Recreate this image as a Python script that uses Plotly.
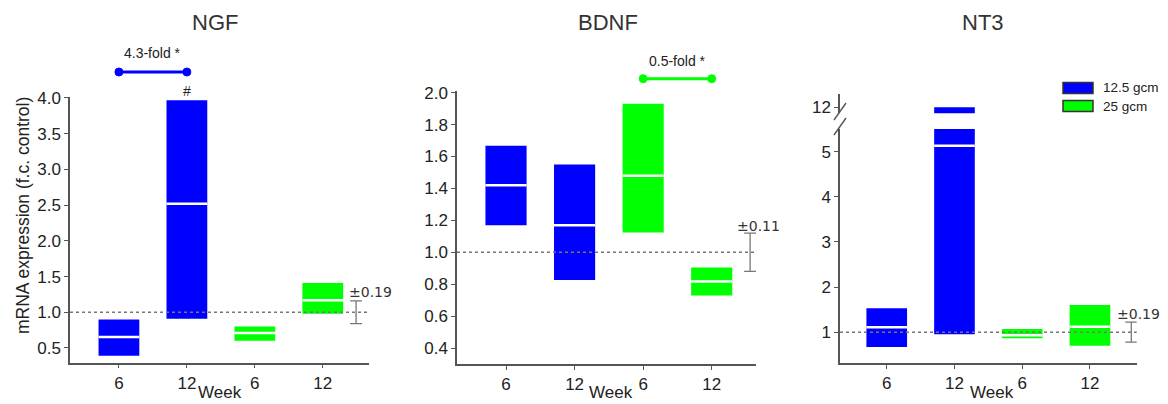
import plotly.graph_objects as go

# ---------------- data ----------------
week_labels = ["6", "12", "6", "12"]
series_names = ["12.5 gcm", "25 gcm"]
series_colors = ["#0000FF", "#00FF00"]
genes = ["NGF", "BDNF", "NT3"]

ngf_low = [0.39, 0.91, 0.60, 0.98]
ngf_med = [0.655, 2.52, 0.71, 1.17]
ngf_high = [0.90, 3.97, 0.80, 1.41]

bdnf_low = [1.17, 0.827, 1.124, 0.73]
bdnf_med = [1.42, 1.17, 1.48, 0.817]
bdnf_high = [1.668, 1.55, 1.93, 0.905]

nt3_low = [0.67, 0.955, 0.867, 0.70]
nt3_med = [1.11, 5.13, 0.93, 1.12]
nt3_high = [1.53, 12.0, 1.07, 1.60]

control_level = 1.0
err_half = [0.16, 0.12, 0.22]
err_labels = ["\u00b10.19", "\u00b10.11", "\u00b10.19"]
fold_labels = ["4.3-fold *", "0.5-fold *"]

ngf_ticks = [0.5, 1.0, 1.5, 2.0, 2.5, 3.0, 3.5, 4.0]
bdnf_ticks = [0.4, 0.6, 0.8, 1.0, 1.2, 1.4, 1.6, 1.8, 2.0]
nt3_ticks = [1, 2, 3, 4, 5]
nt3_break_ticks = [12]

# ---------------- page geometry ----------------
# the page body adds an 8px offset, so the figure is drawn 8px smaller
OX, OY = 8, 8
W, H = 1168 - OX, 404 - OY


def px(x):
    return (x - OX) / W


def py(y):
    return 1 - (y - OY) / H


BAR_W = 0.6
TXT = "#222222"
FONT = "Liberation Sans, Arial, sans-serif"
positions = [0, 1, 2, 3]

fig = go.Figure()

panels = [
    ("NGF", ngf_low, ngf_med, ngf_high, "x", ["y"], 3.49),
    ("BDNF", bdnf_low, bdnf_med, bdnf_high, "x2", ["y2"], 3.56),
    ("NT3", nt3_low, nt3_med, nt3_high, "x3", ["y3", "y4"], 3.61),
]

for pi, (gname, lo, me, hi, xa, yas, ex) in enumerate(panels):
    for ya in yas:
        for si, sname in enumerate(series_names):
            idx = [2 * si, 2 * si + 1]
            fig.add_trace(go.Bar(
                x=[positions[i] for i in idx],
                y=[hi[i] - lo[i] for i in idx],
                base=[lo[i] for i in idx],
                width=BAR_W,
                marker=dict(color=series_colors[si], line=dict(width=0)),
                name=sname, showlegend=False,
                xaxis=xa, yaxis=ya, hoverinfo="skip",
            ))
        mx, my = [], []
        for i in positions:
            mx += [positions[i] - BAR_W / 2, positions[i] + BAR_W / 2, None]
            my += [me[i], me[i], None]
        fig.add_trace(go.Scatter(
            x=mx, y=my, mode="lines", line=dict(color="white", width=2.5),
            showlegend=False, xaxis=xa, yaxis=ya, hoverinfo="skip",
        ))
    fig.add_shape(type="line", xref=f"{xa} domain", yref=yas[0],
                  x0=0, x1=1, y0=control_level, y1=control_level,
                  line=dict(color="#777777", width=1.5, dash="dot"), layer="above")
    fig.add_trace(go.Scatter(
        x=[ex], y=[control_level], mode="markers",
        marker=dict(size=1, color="rgba(0,0,0,0)"),
        error_y=dict(type="data", array=[err_half[pi]], color="#777777",
                     thickness=1.3, width=6),
        showlegend=False, xaxis=xa, yaxis=yas[0], hoverinfo="skip",
    ))

# ---------------- axes ----------------
axis_common = dict(showline=True, linecolor="#555555", linewidth=1.5,
                   ticks="outside", ticklen=4, tickcolor="#555555",
                   showgrid=False, zeroline=False, automargin=False,
                   tickfont=dict(family=FONT, size=17, color=TXT))

fig.update_layout(
    xaxis=dict(domain=[px(70), px(369)], range=[-0.72, 3.68], anchor="y",
               tickvals=positions, ticktext=week_labels, **axis_common),
    yaxis=dict(domain=[py(362.7), py(96.7)], range=[0.294, 4.018], anchor="x",
               tickvals=ngf_ticks, tickformat=".1f", **axis_common),
    xaxis2=dict(domain=[px(457), px(756)], range=[-0.715, 3.646], anchor="y2",
                tickvals=positions, ticktext=week_labels, **axis_common),
    yaxis2=dict(domain=[py(364), py(90.7)], range=[0.30, 2.0125], anchor="x2",
                tickvals=bdnf_ticks, tickformat=".1f", **axis_common),
    xaxis3=dict(domain=[px(840), px(1136.7)], range=[-0.69, 3.69], anchor="y3",
                tickvals=positions, ticktext=week_labels, **axis_common),
    yaxis3=dict(domain=[py(363.3), py(129)], range=[0.31, 5.50], anchor="x3",
                tickvals=nt3_ticks, **axis_common),
    yaxis4=dict(domain=[py(113.3), py(94)], range=[11.87, 12.29], anchor="x3",
                tickvals=nt3_break_ticks, **axis_common),
)

# axis break slashes (NT3)
for (x0, y0, x1, y1) in [(834, 120, 846, 103), (834, 135, 846, 118)]:
    fig.add_shape(type="line", xref="paper", yref="paper",
                  x0=px(x0), y0=py(y0), x1=px(x1), y1=py(y1),
                  line=dict(color="#555555", width=1.4))

# ---------------- annotations ----------------
ann = []
title_x = [215, 608, 983]
week_x = [220, 611, 992]
for gi, g in enumerate(genes):
    ann.append(dict(text=g, x=px(title_x[gi]), y=py(22), xref="paper", yref="paper",
                    xanchor="center", yanchor="middle", showarrow=False,
                    font=dict(family=FONT, size=22, color="#333333")))
    ann.append(dict(text="Week", x=px(week_x[gi]), y=py(392), xref="paper", yref="paper",
                    xanchor="center", yanchor="middle", showarrow=False,
                    font=dict(family=FONT, size=17, color=TXT)))

ann.append(dict(text="mRNA expression (f.c. control)", textangle=-90,
                x=px(23), y=py(216), xref="paper", yref="paper", showarrow=False,
                xanchor="center", yanchor="middle",
                font=dict(family=FONT, size=17.5, color=TXT)))

err_lab_pos = [(347, 292), (735, 226), (1115, 314)]
for (lx, ly), t in zip(err_lab_pos, err_labels):
    ann.append(dict(text=t, x=px(lx), y=py(ly), xref="paper", yref="paper",
                    xanchor="left", yanchor="middle", showarrow=False,
                    font=dict(family="DejaVu Sans, sans-serif", size=14, color="#333333")))

brackets = [("x", 0, 1, 72, 53, series_colors[0], fold_labels[0]),
            ("x2", 2, 3, 78.7, 61, series_colors[1], fold_labels[1])]
for xa, c0, c1, by, ty, col, lab in brackets:
    fig.add_shape(type="line", xref=xa, yref="paper", x0=c0, x1=c1,
                  y0=py(by), y1=py(by), line=dict(color=col, width=3))
    for c in (c0, c1):
        fig.add_shape(type="circle", xref=xa, yref="paper",
                      xsizemode="pixel", ysizemode="pixel",
                      xanchor=c, yanchor=py(by), x0=-4, x1=4, y0=-4, y1=4,
                      fillcolor=col, line=dict(color=col, width=1))
    ann.append(dict(text=lab, x=(c0 + c1) / 2, y=py(ty), xref=xa, yref="paper",
                    xanchor="center", yanchor="middle", showarrow=False,
                    font=dict(family=FONT, size=14, color=TXT)))

ann.append(dict(text="#", x=1, y=py(91), xref="x", yref="paper", showarrow=False,
                xanchor="center", yanchor="middle",
                font=dict(family=FONT, size=14, color=TXT)))

leg_rows = [88, 106]
for si, sname in enumerate(series_names):
    yc = leg_rows[si]
    fig.add_shape(type="rect", xref="paper", yref="paper",
                  x0=px(1063), x1=px(1093), y0=py(yc - 5.5), y1=py(yc + 5.5),
                  fillcolor=series_colors[si], line=dict(color="#333333", width=1.5))
    ann.append(dict(text=sname, x=px(1101), y=py(yc), xref="paper", yref="paper",
                    xanchor="left", yanchor="middle", showarrow=False,
                    font=dict(family=FONT, size=13.5, color=TXT)))

fig.update_layout(
    annotations=ann,
    width=W, height=H, autosize=False,
    margin=dict(l=0, r=0, t=0, b=0),
    paper_bgcolor="white", plot_bgcolor="white",
    barmode="overlay", showlegend=False,
)

fig.write_html("out.html")
